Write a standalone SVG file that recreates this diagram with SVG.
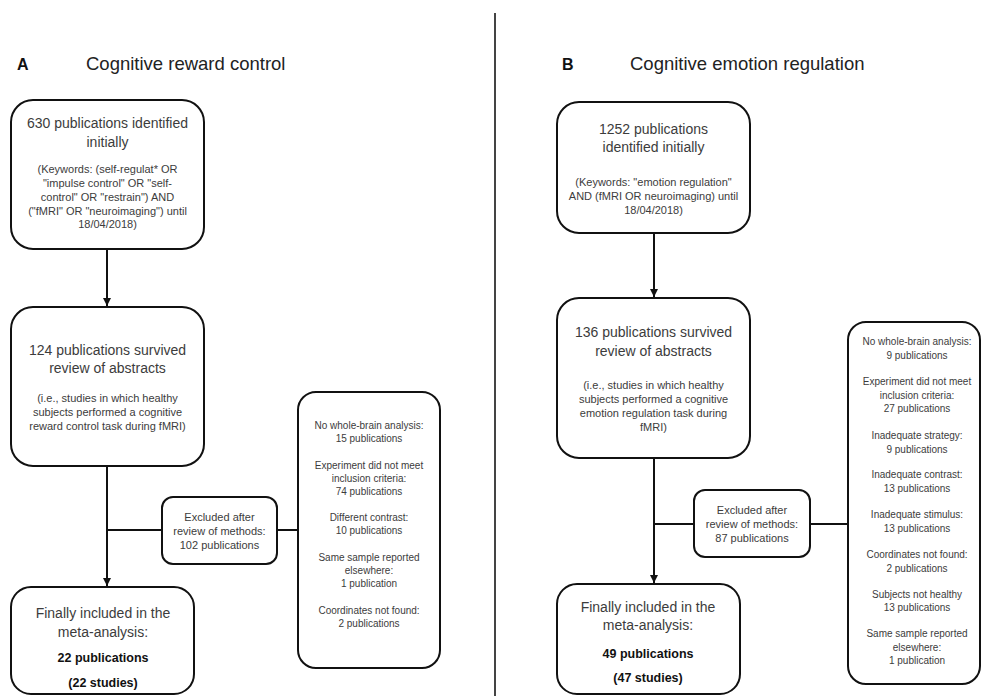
<svg xmlns="http://www.w3.org/2000/svg" width="982" height="696" viewBox="0 0 982 696">
<style>
  .box { fill: #ffffff; stroke: #111111; stroke-width: 2; }
  .ln { fill: none; stroke: #111111; stroke-width: 2; }
  text { font-family: "Liberation Sans", Arial, sans-serif; text-anchor: middle; fill: #3c3c3c; }
  .hd { font-size: 18.5px; text-anchor: start; fill: #222222; }
  .lt { font-size: 16px; font-weight: bold; text-anchor: start; fill: #111111; }
  .m { font-size: 14px; }
  .s { font-size: 11px; }
  .x { font-size: 10px; }
  .b { font-size: 12.5px; font-weight: bold; fill: #111111; }
</style>
<defs>
  <marker id="ah" viewBox="0 0 8 8" refX="8" refY="4" markerWidth="4" markerHeight="4" orient="auto" markerUnits="strokeWidth">
    <path d="M0,0 L8,4 L0,8 Z" fill="#111111"/>
  </marker>
</defs>
<rect width="982" height="696" fill="#ffffff"/>

<line x1="495" y1="13" x2="495" y2="696" stroke="#444444" stroke-width="2"/>

<g id="titles">
  <text class="lt" x="17" y="70">A</text>
  <text class="hd" x="86" y="70">Cognitive reward control</text>
  <text class="lt" x="562" y="70">B</text>
  <text class="hd" x="630" y="70">Cognitive emotion regulation</text>
</g>

<g id="connectors">
  <line class="ln" x1="107" y1="249" x2="107" y2="306" marker-end="url(#ah)"/>
  <line class="ln" x1="107" y1="466" x2="107" y2="586" marker-end="url(#ah)"/>
  <line class="ln" x1="107" y1="530" x2="162" y2="530"/>
  <line class="ln" x1="277" y1="530" x2="298" y2="530"/>
  <line class="ln" x1="654" y1="233" x2="654" y2="297" marker-end="url(#ah)"/>
  <line class="ln" x1="654" y1="458" x2="654" y2="583" marker-end="url(#ah)"/>
  <line class="ln" x1="654" y1="524" x2="694" y2="524"/>
  <line class="ln" x1="810" y1="524" x2="848" y2="524"/>
</g>

<g id="a-identified">
  <rect class="box" x="11" y="100" width="193" height="149" rx="22"/>
  <text class="m" x="107.5" y="128">630 publications identified</text>
  <text class="m" x="107.5" y="147">initially</text>
  <text class="s" x="107.5" y="173">(Keywords: (self-regulat* OR</text>
  <text class="s" x="107.5" y="187">"impulse control" OR "self-</text>
  <text class="s" x="107.5" y="201">control" OR "restrain") AND</text>
  <text class="s" x="107.5" y="214.5">("fMRI" OR "neuroimaging") until</text>
  <text class="s" x="107.5" y="228">18/04/2018)</text>
</g>

<g id="a-survived">
  <rect class="box" x="11" y="307" width="193" height="159" rx="22"/>
  <text class="m" x="107.5" y="355">124 publications survived</text>
  <text class="m" x="107.5" y="373">review of abstracts</text>
  <text class="s" x="107.5" y="402">(i.e., studies in which healthy</text>
  <text class="s" x="107.5" y="416">subjects performed a cognitive</text>
  <text class="s" x="107.5" y="430">reward control task during fMRI)</text>
</g>

<g id="a-excluded">
  <rect class="box" x="162" y="497" width="115" height="67" rx="11"/>
  <text class="s" x="219.5" y="521">Excluded after</text>
  <text class="s" x="219.5" y="535">review of methods:</text>
  <text class="s" x="219.5" y="549">102 publications</text>
</g>

<g id="a-reasons">
  <rect class="box" x="298" y="392" width="142" height="276" rx="18"/>
  <text class="x" x="369" y="428.5">No whole-brain analysis:</text>
  <text class="x" x="369" y="441.5">15 publications</text>
  <text class="x" x="369" y="468.5">Experiment did not meet</text>
  <text class="x" x="369" y="481.5">inclusion criteria:</text>
  <text class="x" x="369" y="495">74 publications</text>
  <text class="x" x="369" y="520.5">Different contrast:</text>
  <text class="x" x="369" y="533.5">10 publications</text>
  <text class="x" x="369" y="560.5">Same sample reported</text>
  <text class="x" x="369" y="573.5">elsewhere:</text>
  <text class="x" x="369" y="586.5">1 publication</text>
  <text class="x" x="369" y="613.5">Coordinates not found:</text>
  <text class="x" x="369" y="626.5">2 publications</text>
</g>

<g id="a-included">
  <rect class="box" x="11" y="587" width="183" height="107" rx="20"/>
  <text class="m" x="103" y="618">Finally included in the</text>
  <text class="m" x="103" y="637">meta-analysis:</text>
  <text class="b" x="103" y="661.5">22 publications</text>
  <text class="b" x="103" y="686.5">(22 studies)</text>
</g>

<g id="b-identified">
  <rect class="box" x="557" y="102" width="193" height="131" rx="22"/>
  <text class="m" x="653.5" y="134">1252 publications</text>
  <text class="m" x="653.5" y="152">identified initially</text>
  <text class="s" x="653.5" y="186">(Keywords: "emotion regulation"</text>
  <text class="s" x="653.5" y="199.5">AND (fMRI OR neuroimaging) until</text>
  <text class="s" x="653.5" y="213.5">18/04/2018)</text>
</g>

<g id="b-survived">
  <rect class="box" x="557" y="298" width="193" height="160" rx="22"/>
  <text class="m" x="653.5" y="337">136 publications survived</text>
  <text class="m" x="653.5" y="356">review of abstracts</text>
  <text class="s" x="653.5" y="389">(i.e., studies in which healthy</text>
  <text class="s" x="653.5" y="403">subjects performed a cognitive</text>
  <text class="s" x="653.5" y="417">emotion regulation task  during</text>
  <text class="s" x="653.5" y="431">fMRI)</text>
</g>

<g id="b-excluded">
  <rect class="box" x="694" y="490" width="116" height="67" rx="11"/>
  <text class="s" x="752" y="514">Excluded after</text>
  <text class="s" x="752" y="528">review of methods:</text>
  <text class="s" x="752" y="542">87 publications</text>
</g>

<g id="b-reasons">
  <rect class="box" x="848" y="322" width="132" height="362" rx="18"/>
  <text class="x" x="917" y="345">No whole-brain analysis:</text>
  <text class="x" x="917" y="358.5">9 publications</text>
  <text class="x" x="917" y="385">Experiment did not meet</text>
  <text class="x" x="917" y="398.5">inclusion criteria:</text>
  <text class="x" x="917" y="411.5">27 publications</text>
  <text class="x" x="917" y="439">Inadequate strategy:</text>
  <text class="x" x="917" y="452.5">9 publications</text>
  <text class="x" x="917" y="478">Inadequate contrast:</text>
  <text class="x" x="917" y="491.5">13 publications</text>
  <text class="x" x="917" y="518">Inadequate stimulus:</text>
  <text class="x" x="917" y="531.5">13 publications</text>
  <text class="x" x="917" y="558">Coordinates not found:</text>
  <text class="x" x="917" y="571.5">2 publications</text>
  <text class="x" x="917" y="597.5">Subjects not healthy</text>
  <text class="x" x="917" y="611">13 publications</text>
  <text class="x" x="917" y="637">Same sample reported</text>
  <text class="x" x="917" y="650.5">elsewhere:</text>
  <text class="x" x="917" y="664">1 publication</text>
</g>

<g id="b-included">
  <rect class="box" x="557" y="584" width="183" height="110" rx="20"/>
  <text class="m" x="648" y="612">Finally included in the</text>
  <text class="m" x="648" y="630">meta-analysis:</text>
  <text class="b" x="648" y="657.5">49 publications</text>
  <text class="b" x="648" y="681.5">(47 studies)</text>
</g>
</svg>
